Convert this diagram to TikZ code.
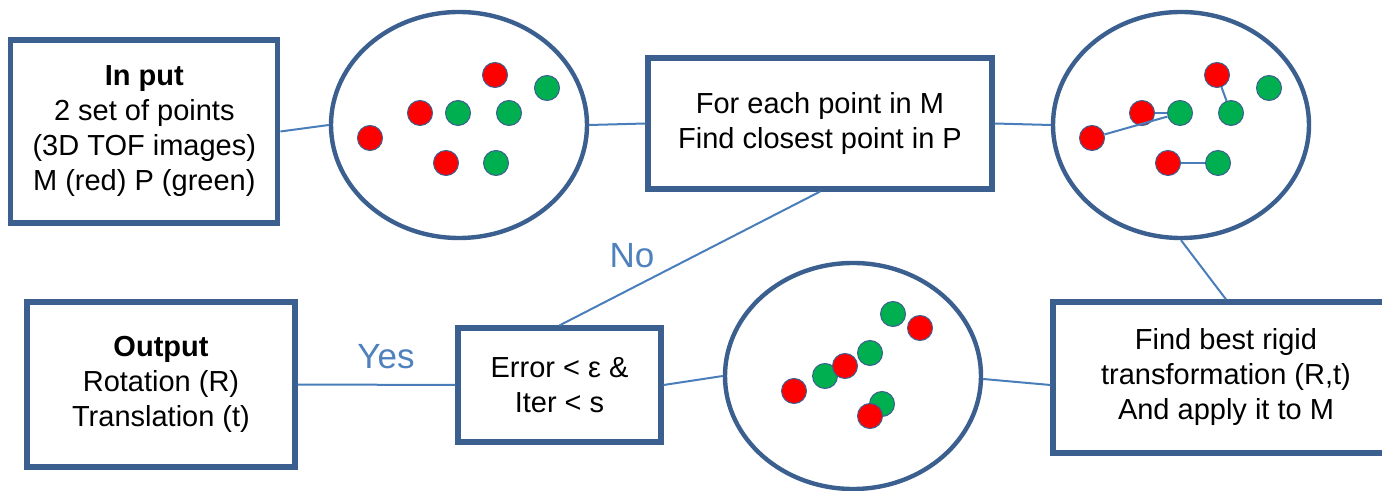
\documentclass[tikz,border=0pt]{standalone}
\usepackage{fontspec}
\setmainfont{Liberation Sans}
\usepackage{tikz}
\usetikzlibrary{positioning}
\usetikzlibrary{shapes.geometric}
\usetikzlibrary{calc}
\definecolor{boxblue}{HTML}{3B5F8F}
\definecolor{linkblue}{HTML}{4A7EBB}
\definecolor{labelblue}{HTML}{4F81BD}
\definecolor{ptred}{HTML}{FF0000}
\definecolor{ptgreen}{HTML}{00B050}
\tikzstyle{proc}=[draw=boxblue, rectangle, fill=white, line width=2.6pt, align=center]
\tikzstyle{cloud}=[draw=boxblue, ellipse, line width=2.2pt, minimum width=128pt, minimum height=113pt]
\tikzstyle{mpt}=[draw=boxblue, circle, fill=ptred, line width=0.5pt, minimum size=12.5pt]
\tikzstyle{ppt}=[draw=boxblue, circle, fill=ptgreen, line width=0.5pt, minimum size=12.5pt]
\tikzstyle{link}=[draw=linkblue, line width=1pt]
\tikzstyle{answer}=[text=labelblue, font=\fontsize{17.5}{21}\selectfont]

\begin{document}
\begin{tikzpicture}[x=0.5pt, y=-0.5pt, inner sep=0pt, font=\fontsize{14.5}{17.5}\selectfont]
				
				\useasboundingbox (0,0) rectangle (1382,491);
				
				\node (input) [proc, minimum width=133.5pt, minimum height=91.5pt] at (144.3,131.5) {\textbf{In put}\\ 2 set of points\\(3D TOF images)\\M (red) P (green)};
				\node (match) [proc, minimum width=172pt, minimum height=65.5pt] at (820,123.5) {For each point in M\\Find closest point in P};
				\node (fit) [proc, minimum width=173pt, minimum height=75.5pt] at (1226,377.5) {Find best rigid\\transformation (R,t)\\And apply it to M};
				\node (check) [proc, minimum width=101.5pt, minimum height=57pt] at (559.5,385) {Error < ε \&\\Iter < s};
				\node (output) [proc, minimum width=134pt, minimum height=82.5pt] at (161,384.5) {\textbf{Output}\\Rotation (R)\\Translation (t)};
				%
				\node (cloud1) [cloud] at (459,125) {};
				\node (cloud2) [cloud] at (1181,125) {};
				\node (cloud3) [cloud] at (853,376) {};
				
				% initial point sets
				\node (m1a) [mpt] at ($(cloud1)+(36,-50)$) {};
				\node (m1b) [mpt] at ($(cloud1)+(-39,-12)$) {};
				\node (m1c) [mpt] at ($(cloud1)+(-89,13)$) {};
				\node (m1d) [mpt] at ($(cloud1)+(-13,38)$) {};
				\node (p1a) [ppt] at ($(cloud1)+(88,-37)$) {};
				\node (p1b) [ppt] at ($(cloud1)+(-1,-12)$) {};
				\node (p1c) [ppt] at ($(cloud1)+(50,-12)$) {};
				\node (p1d) [ppt] at ($(cloud1)+(37,38)$) {};
				
				% closest point pairs
				\node (m2a) [mpt] at ($(cloud2)+(36,-50)$) {};
				\node (m2b) [mpt] at ($(cloud2)+(-39,-12)$) {};
				\node (m2c) [mpt] at ($(cloud2)+(-89,13)$) {};
				\node (m2d) [mpt] at ($(cloud2)+(-13,38)$) {};
				\node (p2a) [ppt] at ($(cloud2)+(88,-37)$) {};
				\node (p2b) [ppt] at ($(cloud2)+(-1,-12)$) {};
				\node (p2c) [ppt] at ($(cloud2)+(50,-12)$) {};
				\node (p2d) [ppt] at ($(cloud2)+(37,38)$) {};
				\draw [link] (m2b) to (p2b);
				\draw [link] (m2c) to (p2b);
				\draw [link] (m2a) to (p2c);
				\draw [link] (m2d) to (p2d);
				
				% after transformation
				\node (p3a) [ppt] at ($(cloud3)+(40,-62)$) {};
				\node (p3b) [ppt] at ($(cloud3)+(17,-23)$) {};
				\node (p3c) [ppt] at ($(cloud3)+(-28,0)$) {};
				\node (p3d) [ppt] at ($(cloud3)+(29,28)$) {};
				\node (m3a) [mpt] at ($(cloud3)+(67,-48)$) {};
				\node (m3b) [mpt] at ($(cloud3)+(-8,-10)$) {};
				\node (m3c) [mpt] at ($(cloud3)+(-59,15)$) {};
				\node (m3d) [mpt] at ($(cloud3)+(17,40)$) {};
				
				\draw [link] (input.east) to (cloud1.west);
				\draw [link] (cloud1.east) to (match.west);
				\draw [link] (match.east) to (cloud2.west);
				\draw [link] (cloud2.south) to (fit.north);
				\draw [link] ([yshift=-3.75pt]fit.west) to ([yshift=-1.5pt]cloud3.east);
				\draw [link] (cloud3.west) to (check.east);
				\draw [link] (check.west) to (output.east);
				\draw [link] (match.south) to (check.north);
				
				\node (no) [answer] at (632,256) {No};
				\node (yes) [answer] at (386,357) {Yes};
				\end{tikzpicture}
\end{document}
